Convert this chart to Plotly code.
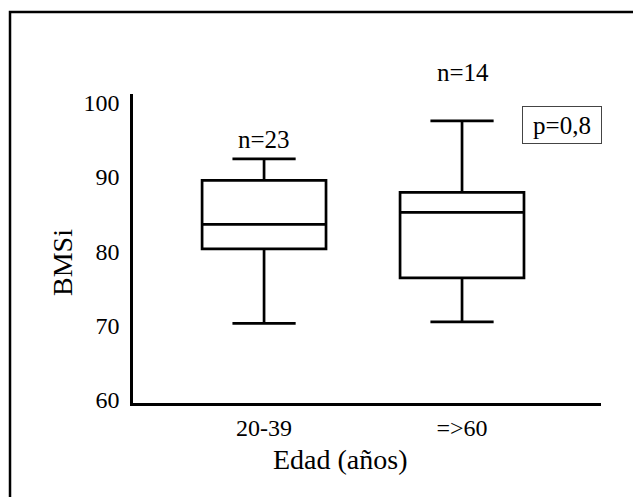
import plotly.graph_objects as go

# Data
categories = ["20-39", "=>60"]
cat_pos = [0, 1]
lower_whisker = [70.3, 70.5]
q1_vals = [80.3, 76.4]
median_vals = [83.6, 85.2]
q3_vals = [89.5, 87.9]
upper_whisker = [92.4, 97.5]
n_labels = ["n=23", "n=14"]
y_ticks = [60, 70, 80, 90, 100]
p_text = "p=0,8"

FONT = "Liberation Serif"

fig = go.Figure()
fig.add_trace(go.Box(
    x=cat_pos,
    q1=q1_vals, median=median_vals, q3=q3_vals,
    lowerfence=lower_whisker, upperfence=upper_whisker,
    width=0.626, whiskerwidth=0.51,
    line=dict(color="black", width=2.7),
    fillcolor="rgba(255,255,255,0)",
    boxpoints=False, showlegend=False, hoverinfo="skip",
))

common = dict(xref="paper", yref="paper", showarrow=False,
              xanchor="center", yanchor="middle")
annotations = [
    dict(x=0.2799, y=0.854, text=n_labels[0],
         font=dict(family=FONT, size=25, color="black"), **common),
    dict(x=0.705, y=1.068, text=n_labels[1],
         font=dict(family=FONT, size=25, color="black"), **common),
    dict(x=0.9167, y=0.899, text=p_text,
         font=dict(family=FONT, size=25, color="black"),
         width=72, height=30,
         bordercolor="#444", borderwidth=1, borderpad=3, bgcolor="white",
         **common),
    dict(x=0.444, y=-0.184, text="Edad (años)",
         font=dict(family=FONT, size=28, color="black"), **common),
    dict(x=-0.152, y=0.456, text="BMSi", textangle=-90,
         font=dict(family=FONT, size=28, color="black"), **common),
]

fig.update_layout(
    width=633, height=497,
    margin=dict(l=133, r=32, t=94, b=94, autoexpand=False),
    paper_bgcolor="white", plot_bgcolor="white",
    font=dict(family=FONT, size=24, color="black"),
    annotations=annotations,
    shapes=[dict(type="rect", xref="paper", yref="paper",
                 x0=-0.2628, y0=-0.6, x1=1.3, y1=1.2654,
                 line=dict(color="black", width=2.5), layer="below")],
    xaxis=dict(range=[-0.662, 1.702], tickvals=cat_pos, ticktext=categories,
               showline=True, linecolor="black", linewidth=3,
               showgrid=False, zeroline=False, ticks="",
               ticklabelstandoff=1,
               tickfont=dict(family=FONT, size=24, color="black")),
    yaxis=dict(range=[59.6, 101.1], tickvals=y_ticks,
               showline=True, linecolor="black", linewidth=2.5,
               showgrid=False, zeroline=False, ticks="",
               ticklabelstandoff=6,
               tickfont=dict(family=FONT, size=24, color="black")),
)

fig.write_html("out.html", config={"displayModeBar": False},
               post_script="document.body.style.margin='0';")
